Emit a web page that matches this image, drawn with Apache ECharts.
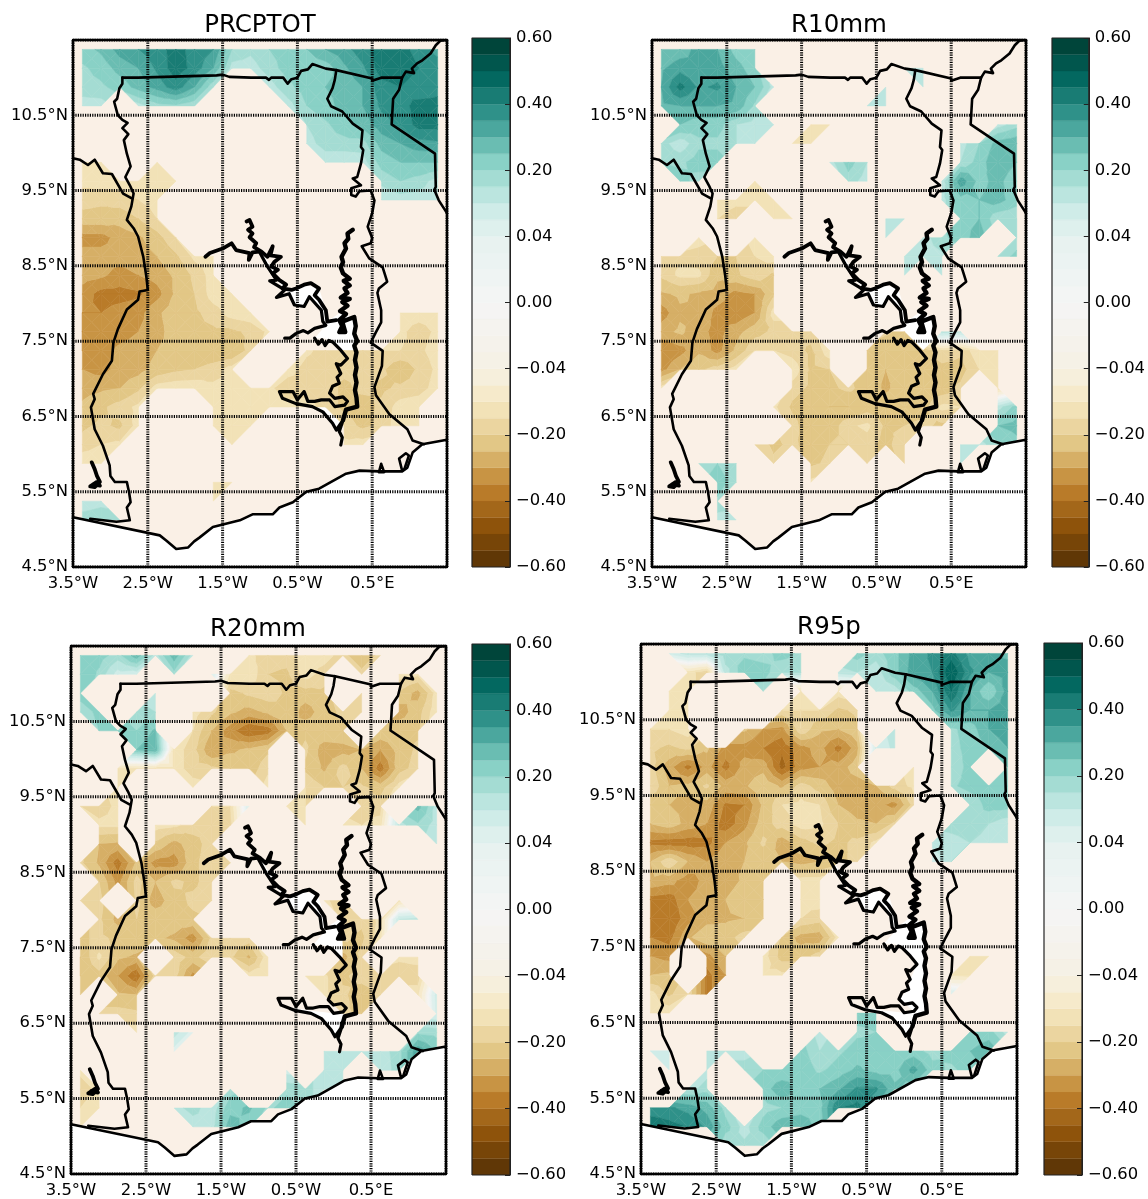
<!DOCTYPE html>
<html><head><meta charset="utf-8">
<style>html,body{margin:0;padding:0;background:#fff}#c{width:1148px;height:1199px}</style>
<script src="https://cdn.jsdelivr.net/npm/echarts@6/dist/echarts.min.js"></script>
</head><body><div id="c"></div>
<script>
// Grid of the masked fields: rows from north to south, columns from west to east. Values in hundredths; 0 = masked.
const gridLons=[-3.375,-3.125,-2.875,-2.625,-2.375,-2.125,-1.875,-1.625,-1.375,-1.125,-0.875,-0.625,-0.375,-0.125,0.125,0.375,0.625,0.875,1.125,1.375];
const gridLats=[11.375,11.125,10.875,10.625,10.375,10.125,9.875,9.625,9.375,9.125,8.875,8.625,8.375,8.125,7.875,7.625,7.375,7.125,6.875,6.625,6.375,6.125,5.875,5.625,5.375,5.125,4.875,4.625];
const titles=['PRCPTOT','R10mm','R20mm','R95p'];
const PRCPTOT=[
[23,26,32,35,38,42,38,35,20,17,20,22,25,30,33,38,43,42,38,33],
[19,22,27,30,36,43,38,30,14,14,18,22,22,22,29,34,43,44,40,38],
[18,19,22,27,32,38,30,16,0,0,14,19,22,25,27,30,38,40,36,38],
[14,14,0,14,18,19,16,0,0,0,0,14,20,23,27,30,36,38,42,42],
[0,0,0,0,0,0,0,0,0,0,0,0,16,19,23,27,33,36,42,42],
[0,0,0,0,0,0,0,0,0,0,0,0,14,18,18,18,27,30,33,34],
[-13,-13,0,0,-13,0,0,0,0,0,0,0,0,13,13,14,22,25,25,25],
[-15,-14,-14,-14,-15,-13,0,0,0,0,0,0,0,0,0,0,17,20,18,14],
[-18,-19,-18,-16,-14,0,0,0,0,0,0,0,0,0,0,0,13,14,14,13],
[-22,-22,-23,-20,-16],
[-32,-32,-28,-26,-22,-16],
[-28,-28,-28,-27,-25,-21,-15,-14],
[-28,-29,-32,-30,-28,-24,-19,-14],
[-32,-37,-37,-36,-32,-24,-20,-14,-13],
[-35,-35,-33,-32,-26,-22,-21,-18,-14,-13,0,0,0,0,0,0,0,-14,-14,-14],
[-35,-33,-32,-30,-27,-22,-21,-21,-21,-19,-15,0,0,0,0,0,0,-15,-18,-15],
[-35,-32,-29,-28,-25,-23,-25,-24,-25,-18,0,0,-15,-18,-18,-18,-16,-16,-17,-14],
[-30,-32,-28,-27,-23,-21,-20,-18,-14,0,0,-14,-18,-19,-19,-19,-19,-24,-19,-15],
[-27,-26,-25,-21,-14,-13,-13,-15,-16,-15,-15,-19,-18,-18,-21,-19,-21,-19,-18,-14],
[-24,-21,-18,-15,0,0,0,-13,-14,-13,-13,-14,-14,-18,-21,-22,-19,-14,-13,0],
[-21,-19,-21,-14,0,0,0,-13,-14,-13,0,0,0,0,-18,-21,-19,-13,-13,0],
[-18,-16,-15,0,0,0,0,0,-13,0,0,0,0,0,-15,-14],
[-13,-13],
[0,0,0,0,0,0,0,-13,-13],
[12,14,0,0,0,0,0,-13],
[19,20,19],
[],[]];
const R10mm=[
[25,27,32,30,23,20],
[29,33,30,32,27,22,0,0,0,0,0,0,0,14,16],
[30,42,34,36,30,25,14,0,0,0,0,0,13,0,14],
[29,30,30,30,29,19,0,0,0,0,0,13,14],
[0,25,22,22,16,14,14,0,-15,-13,0,0,0,0,0,0,0,0,14,18],
[18,13,19,19,16,13,0,-13,-14,0,0,0,0,0,0,0,14,20,27,29],
[20,19,22,22,0,0,0,0,0,14,22,16,0,0,0,0,16,22,30,25],
[0,22,18,0,0,-14,0,0,0,0,18,14,0,0,0,13,33,23,27,20],
[0,0,0,-14,-15,-15,-14,0,0,0,0,0,0,0,0,14,23,25,27,22],
[0,0,0,-16,-18,0,-13,-13,0,0,0,0,13,13,0,0,23,25,16,16],
[0,0,-14,0,0,-14,0,0,0,0,0,0,13,0,14,19,22,28,0,16],
[-18,-17,-18,-20,-20,-16,-14,0,0,0,0,0,0,13,14,15,0,0,16,22],
[-19,-15,-15,-24,-21,-17,-21,0,0,0,0,0,0,13,0,13],
[-26,-24,-26,-27,-32,-30,-21],
[-33,-26,-25,-32,-34,-30,-14],
[-27,-24,-28,-32,-27,-22,-19,-19,-18,0,0,0,-19,-22,0,14,13],
[-35,-32,-26,-32,-24,-16,-16,-18,-21,-13,0,-22,-24,-24,-24,-16,-19,-13,-13],
[-32,-25,-21,-18,-14,0,0,-13,-21,-20,0,-23,-25,-23,-23,-22,-22,-16,-14],
[-14,0,0,0,0,0,0,-18,-21,-21,-19,-22,-26,-22,-22,-23,-19,0,-15,0],
[0,0,0,0,0,0,-15,-21,-24,-25,-25,-22,-22,-22,-22,-15,-16,0,14,22],
[0,0,0,0,0,0,0,-18,-24,-23,-17,-15,-21,-20,-19,-21,0,0,25,27],
[0,0,0,0,0,-17,-21,-19,-22,-20,-20,-18,-22,-16,0,0,12,14,19,23],
[0,0,16,20,16,0,-19,0,-21,-19,0,-18,0,-18,0,0,12],
[0,0,0,23,17,0,0,0,-15],
[0,0,0,19],
[0,0,0,14,13],
[],[]];
const R20mm=[
[23,22,18,28,14,28,14,0,0,-15,-18,-18,-14,-14,-18,-25,-18],
[25,19,10,9,0,18,0,8,-13,-13,-20,-21,-14,-18,0,-18,0,-14,-15],
[23,0,0,0,13,0,0,0,-22,-19,-17,-21,-22,-21,0,-16,0,-21,-27,-14],
[16,22,0,18,16,0,-14,-19,-24,-27,-24,-20,-28,-22,-19,-18,0,-28,-22,-13],
[0,20,22,20,26,0,-16,-25,-33,-40,-38,-25,-21,-21,-21,0,-21,-21,-21],
[0,0,0,25,29,-14,-18,-30,-26,-24,-21,0,-19,-28,-27,-25,-30,-23,-19],
[0,0,-15,-14,-14,-14,-18,-19,-21,-23,-17,0,-21,-26,-18,-25,-38,-22,-18],
[0,0,-14,0,0,0,-14,0,0,0,-14,0,-16,-20,-20,-19,-22,-14],
[-16,-18,-15,0,0,0,0,-16,-16,8,0,-14,-16,0,0,-18,-18,0,27,14],
[0,-15,-15,0,-14,-15,-18,-19,-18,0,0,0,-13,0,-15,-16,-14,14,19,14],
[0,-25,-26,0,-21,-27,-22,-18,0,0,0,0,0,0,0,0,0,0,0,12],
[-19,-26,-38,-24,-32,-33,-21,-18,-17,-18],
[0,-20,-32,-18,-25,-19,-21,-18],
[-16,-18,0,-19,-28,-22,-19,-18,0,0,0,0,0,-14,-21,0,0,-14],
[0,-19,-27,-20,-21,-22,-21,0,0,0,0,0,0,0,-18,-19,-15,12,14],
[-21,-19,-21,-21,-24,-26,-33,-19,-18,-18,0,0,0,0,-19,-21,-14],
[-25,-15,-24,-26,0,-17,-22,-16,-19,-26,-13,0,0,0,-27,-19,0,-15,-14],
[-25,-22,-30,-40,-18,-18,-32,0,0,-14,-13,0,-15,-15,-21,-18,-18,-19,-19],
[-22,0,-24,-25,0,0,0,0,0,0,0,0,0,-15,-19,-23,-18,0,-13,10],
[0,-18,-18,-19,0,0,0,0,0,0,0,0,0,0,-19,-21,0,0,0,9],
[0,0,0,-14,0,14,6,0,0,0,0,0,0,0,0,0,0,0,19,18],
[0,0,0,0,0,6,0,0,0,0,0,0,0,12,12,12,14,18,34,25],
[-15,0,0,0,0,0,0,0,0,0,0,10,0,13,13,0,13,18],
[-18,-15,0,0,0,0,0,0,18,0,0,19,18,13,13],
[-16,-14,0,0,0,14,18,13,23,26,19,22,18],
[-15,0,0,0,0,0,13,14,28,22],
[],[]];
const R95p=[
[0,9,14,14,19,19,18,22,19,0,0,22,18,23,32,36,42,33,33,29],
[0,0,-14,-19,14,23,22,16,16,0,14,16,13,23,33,35,50,36,30,32],
[0,-14,-14,0,0,0,18,0,-14,0,-14,0,13,13,22,30,45,30,20,32],
[0,-14,-14,0,0,0,0,-16,-16,-16,-21,-19,0,0,0,23,36,30,30,34],
[-16,-16,-14,0,0,-24,-30,-32,-16,-24,-25,-21,0,14,0,0,19,22,30,34],
[-19,-21,-19,-24,-32,-32,-35,-39,-32,-28,-37,-27,9,13,0,0,18,22,25,30],
[-18,-28,-37,-28,-37,-28,-27,-42,-32,-30,-28,-22,0,0,-14,0,16,22,0,25],
[-16,-25,-24,-19,-27,-26,-21,-26,-18,-22,-28,-28,-25,-18,-15,0,19,22,22,22],
[-24,-25,-26,-27,-36,-35,-24,-16,-15,-16,-25,-28,-28,-32,-18,0,0,16,22,22],
[-25,-22,-27,-30,-38,-32,-22,-18,-14,-15,-20,-24,-25,-19,0,0,18,19,16,13],
[-37,-38,-38,-37,-30,-26,-19,-28,-22,-19,-21,-19,-15,0,0,13,14,16,14,13],
[-25,-16,-25,-30,-26,-25,-24,-25,-27,-25,-22,-18,0,0,0,9,16],
[-26,-28,-33,-28,-28,-24,-22,0,-14,-14],
[-37,-38,-30,-28,-25,-21,-21,0,-15,-14],
[-38,-40,-32,-27,-26,-25,-24,0,-16,-18],
[-35,-37,-26,-21,-22,-18,0,-21,-27,-28,-14],
[-30,-32,0,-32,-25,0,-14,-22,-22,-18,0,0,0,0,0,0,0,-15,-13],
[-25,-24,0,-37,-30,0,-15,-15,0,0,0,0,0,0,0,0,-13,-14],
[-14,-21,-16,-37,0,0,0,0,0,0,0,0,0,0,0,0,8],
[-15,-13,0,0,0,0,0,0,0,0,0,22,22],
[0,0,0,0,0,0,0,0,0,14,0,19,20,0,0,0,0,20,22,14],
[8,8,0,14,14,14,0,0,22,16,19,22,22,22,22,18,22,25,29],
[0,9,0,14,0,18,20,20,23,19,22,26,23,23,32,22,19,22],
[0,0,14,18,0,0,22,29,22,25,29,36,36,26,22],
[36,36,33,28,18,0,18,20,22,23,40,42,30],
[45,42,40,34,22,14,22,29,30,22],
[0,0,0,0,16,17,16],
[]];
const fields=[PRCPTOT,R10mm,R20mm,R95p];
// Contour levels (hundredths) and colour bar tick labels
const levels=[-60,-55,-50,-45,-40,-35,-30,-25,-20,-16,-12,-8,-4,-3,-2,-1,0,1,2,3,4,8,12,16,20,25,30,35,40,45,50,55,60];
const barTicks=['−0.60','−0.40','−0.20','−0.04','0.00','0.04','0.20','0.40','0.60'];
const brbg=['#543005','#8c510a','#bf812d','#dfc27d','#f6e8c3','#f5f5f5','#c7eae5','#80cdc1','#35978f','#01665e','#003c30'];
// Map ticks
const lonTicks=[-3.5,-2.5,-1.5,-0.5,0.5,1.5];
const latTicks=[4.5,5.5,6.5,7.5,8.5,9.5,10.5,11.5];
const lonLabels={'-3.5':'3.5°W','-2.5':'2.5°W','-1.5':'1.5°W','-0.5':'0.5°W','0.5':'0.5°E'};
const latLabels={'4.5':'4.5°N','5.5':'5.5°N','6.5':'6.5°N','7.5':'7.5°N','8.5':'8.5°N','9.5':'9.5°N','10.5':'10.5°N'};
// Outlines, longitude / latitude
const coast=[[-3.5,5.16],[-2.34,4.92],[-2.25,4.85],[-2.12,4.74],[-1.96,4.76],[-1.88,4.84],[-1.81,4.89],[-1.63,5.03],[-1.27,5.12],[-1.1,5.2],[-0.83,5.2],[-0.74,5.29],[-0.56,5.36],[-0.38,5.5],[-0.21,5.54],[0.15,5.74],[0.33,5.78],[0.59,5.77],[0.9,5.77],[0.97,5.82],[1.04,6.02],[1.17,6.13],[1.5,6.19]];
const northBorder=[[-2.84,11],[-2.63,11],[-1.58,11.03],[-1.5,11.04],[-1.41,11.01],[-1.12,11],[-0.92,11],[-0.88,10.97],[-0.85,11],[-0.69,11],[-0.63,10.92],[-0.58,10.98],[-0.5,11],[-0.45,11.09],[-0.36,11.11],[-0.3,11.18],[-0.12,11.12],[0.02,11.1],[0.5,10.99],[0.5,10.96],[0.62,11],[0.9,11],[0.95,11.08],[1.06,11.06],[1.03,11.12],[1.1,11.19],[1.17,11.23],[1.28,11.32],[1.35,11.43],[1.41,11.49],[1.5,11.5]];
const togoBenin=[[0.9,11],[0.86,10.84],[0.78,10.72],[0.76,10.38],[1.34,9.99],[1.35,9.55],[1.33,9.51],[1.39,9.37],[1.5,9.2]];
const westBorder=[[-2.84,11],[-2.84,10.92],[-2.88,10.86],[-2.91,10.72],[-2.95,10.68],[-2.9,10.5],[-2.84,10.44],[-2.77,10.4],[-2.84,10.33],[-2.76,10.25],[-2.82,10.17],[-2.78,9.99],[-2.73,9.82],[-2.8,9.68],[-2.74,9.57],[-2.69,9.46],[-2.72,9.29],[-2.78,9.11],[-2.69,9],[-2.63,8.89],[-2.56,8.62],[-2.52,8.36],[-2.5,8.18],[-2.61,8.16],[-2.63,8.05],[-2.78,7.92],[-2.9,7.66],[-2.96,7.48],[-2.98,7.24],[-3.1,7.06],[-3.23,6.8],[-3.21,6.73],[-3.26,6.62],[-3.21,6.33],[-3.1,6.11],[-3.01,5.85],[-3,5.71],[-2.94,5.63],[-2.78,5.63],[-2.75,5.49],[-2.73,5.36],[-2.78,5.29],[-2.74,5.12],[-2.92,5.1],[-3.27,5.14]];
const ivoryBurkina=[[-3.5,9.93],[-3.41,9.91],[-3.3,9.84],[-3.21,9.91],[-3.1,9.73],[-2.98,9.72],[-2.83,9.46],[-2.72,9.4]];
const eastBorder=[[0.02,11.1],[0,10.97],[-0.03,10.86],[-0.1,10.72],[-0.05,10.62],[0.1,10.55],[0.24,10.39],[0.37,10.3],[0.35,10.08],[0.38,10.04],[0.35,9.86],[0.3,9.68],[0.24,9.66],[0.35,9.57],[0.22,9.53],[0.22,9.44],[0.28,9.42],[0.33,9.49],[0.48,9.5],[0.53,9.37],[0.5,9.2],[0.44,9.02],[0.5,8.87],[0.48,8.8],[0.36,8.76],[0.46,8.6],[0.64,8.48],[0.7,8.29],[0.59,8.2],[0.57,8.14],[0.62,7.91],[0.62,7.75],[0.55,7.62],[0.48,7.48],[0.64,7.37],[0.63,7.17],[0.53,6.89],[0.55,6.78],[0.73,6.53],[0.97,6.33],[1.04,6.18],[1.19,6.13]];
const ketaLagoon=[[0.9,5.78],[0.86,5.94],[0.95,6.01],[0.99,5.98],[0.93,5.8],[0.9,5.78]];
const smallLagoon=[[0.62,5.87],[0.66,5.76],[0.59,5.76],[0.62,5.87]];
const westLake=[[-3.25,5.89],[-3.21,5.8],[-3.18,5.71],[-3.14,5.63],[-3.21,5.56],[-3.27,5.57],[-3.18,5.63],[-3.14,5.58],[-3.23,5.6]];
const voltaWest=[[-1.73,8.62],[-1.67,8.67],[-1.5,8.73],[-1.38,8.8],[-1.32,8.71],[-1.14,8.67],[-1.15,8.58],[-1.1,8.68],[-1.01,8.69]];
const voltaNorth=[[-1.18,9.09],[-1.14,9.11],[-1.1,9.02],[-1.16,8.98],[-1.1,8.93],[-1.14,8.88],[-1.05,8.8],[-1.08,8.75],[-0.98,8.69],[-0.9,8.62],[-0.83,8.76],[-0.86,8.64],[-0.72,8.62],[-0.81,8.55],[-0.85,8.49],[-0.76,8.45],[-0.83,8.4],[-0.74,8.31],[-0.65,8.25],[-0.7,8.2],[-0.58,8.18],[-0.52,8.2],[-0.41,8.25],[-0.32,8.27],[-0.21,8.2],[-0.27,8.11],[-0.21,8.05],[-0.12,7.91],[-0.1,7.76],[0.02,7.78]];
const voltaInner=[[-1.01,8.69],[-0.9,8.49],[-0.78,8.31],[-0.87,8.3],[-0.67,8.18],[-0.78,8.08],[-0.61,8.13],[-0.54,7.98],[-0.41,7.96],[-0.34,8.09],[-0.18,7.91],[-0.16,7.76],[-0.12,7.71],[-0.27,7.67],[-0.36,7.61],[-0.42,7.64],[-0.52,7.6],[-0.6,7.54],[-0.67,7.54]];
const voltaSouth=[[-0.27,7.54],[-0.22,7.46],[-0.17,7.52],[-0.13,7.44],[-0.08,7.51],[-0.03,7.49],[0.08,7.38],[0.17,7.27],[0.08,7.18],[0.02,7.2],[0.08,7.07],[0.03,7.02],[0.06,6.94],[-0.03,6.9],[-0.07,6.81],[0,6.74],[0.11,6.76],[0.17,6.7],[0.13,6.65],[0,6.63],[-0.07,6.72],[-0.18,6.72],[-0.27,6.7],[-0.36,6.7],[-0.41,6.83],[-0.5,6.72],[-0.56,6.83],[-0.74,6.83],[-0.7,6.74],[-0.52,6.67],[-0.3,6.63],[-0.16,6.56],[-0.03,6.41],[0.02,6.32],[0.11,6.45],[0.06,6.3],[0.1,6.22],[0.08,6.12]];
const voltaEast=[[0.24,8.98],[0.17,8.93],[0.18,8.86],[0.13,8.8],[0.15,8.73],[0.09,8.62],[0.11,8.55],[0.08,8.48],[0.11,8.4],[0.2,8.33],[0.12,8.3],[0.2,8.24],[0.13,8.2],[0.17,8.14],[0.08,8.08],[0.2,8.06],[0.1,8.02],[0.17,7.97],[0.07,7.9],[0.15,7.86],[0.06,7.78],[0.1,7.7],[0.06,7.62],[0.14,7.62],[0.1,7.76],[0.26,7.82],[0.28,7.7],[0.26,7.6],[0.3,7.5],[0.26,7.44],[0.29,7.35],[0.27,7.25],[0.29,7.15],[0.27,7.05],[0.29,6.95],[0.27,6.85],[0.29,6.75],[0.3,6.63],[0.15,6.59],[0.11,6.45]];
const lakeBody=[[-0.12,7.71],[-0.1,7.76],[0.06,7.87],[0.26,7.82],[0.28,7.56],[0.28,7.12],[0.3,6.63],[0.15,6.59],[0.06,6.3],[0.02,6.32],[-0.03,6.41],[-0.16,6.56],[-0.3,6.63],[-0.52,6.67],[-0.7,6.74],[-0.52,6.7],[-0.27,6.66],[0,6.63],[0.13,6.65],[-0.07,6.81],[0.06,6.94],[0.08,7.07],[0.17,7.27],[-0.03,7.49],[-0.14,7.54],[-0.27,7.54]];
const lakeArm=[[-0.98,8.69],[-0.85,8.49],[-0.74,8.31],[-0.58,8.18],[-0.41,8.25],[-0.21,8.2],[-0.12,7.91],[-0.1,7.76],[-0.16,7.76],[-0.18,7.91],[-0.34,8.09],[-0.41,7.96],[-0.54,7.98],[-0.61,8.13],[-0.78,8.31],[-0.9,8.49],[-1.01,8.69]];

// Layout
const panels=[
 {m:[73,40,374,527],b:[472,38,38,529],tx:260,ty:13},
 {m:[652,40,374,527],b:[1052,38,38,529],tx:839,ty:13},
 {m:[71,646,375,528],b:[472,644,38,531],tx:258,ty:617},
 {m:[641,644,376,531],b:[1044,643,38,532],tx:829,ty:615}];
const font='"DejaVu Sans"', labelSize=16.4, linen='#faf0e6';

function hex(h){return [1,3,5].map(i=>parseInt(h.substr(i,2),16));}
function bandColor(i){
  // colour of a band follows its mid value on a linear -0.6..0.6 scale
  const mid=(levels[i]+levels[i+1])/2;
  const t=(mid+60)/120*(brbg.length-1), k=Math.min(Math.floor(t),brbg.length-2), f=t-k;
  const a=hex(brbg[k]),b=hex(brbg[k+1]);
  return 'rgb('+a.map((v,j)=>Math.round(v+(b[j]-v)*f)).join(',')+')';
}
function clip(poly,lvl,above){
  const out=[],n=poly.length;
  for(let i=0;i<n;i++){
    const p=poly[i],q=poly[(i+1)%n];
    const pin=above?p[2]>=lvl:p[2]<=lvl, qin=above?q[2]>=lvl:q[2]<=lvl;
    if(pin)out.push(p);
    if(pin!==qin){const t=(lvl-p[2])/(q[2]-p[2]);out.push([p[0]+(q[0]-p[0])*t,p[1]+(q[1]-p[1])*t,lvl]);}
  }
  return out;
}
function contourPolys(field){
  const res=[];
  const at=(r,c)=>{const row=field[r]||[];const v=row[c];return v?[gridLons[c],gridLats[r],v]:null;};
  for(let r=0;r<gridLats.length-1;r++)for(let c=0;c<gridLons.length-1;c++){
    const q=[at(r,c),at(r,c+1),at(r+1,c+1),at(r+1,c)].filter(Boolean);
    let tris=[];
    if(q.length===3)tris=[q];
    else if(q.length===4){
      const m=[0,1,2].map(k=>(q[0][k]+q[1][k]+q[2][k]+q[3][k])/4);
      tris=[[q[0],q[1],m],[q[1],q[2],m],[q[2],q[3],m],[q[3],q[0],m]];
    }
    tris.forEach(t=>{
      const vs=t.map(p=>p[2]),lo=Math.min(...vs),hi=Math.max(...vs);
      for(let b=0;b<levels.length-1;b++){
        if(levels[b+1]<lo||levels[b]>hi)continue;
        let p=clip(t,levels[b],true);
        if(p.length>=3)p=clip(p,levels[b+1],false);
        if(p.length>=3)res.push({pts:p,b});
      }
    });
  }
  return res;
}
function polySeries(idx,polys,z){
  return {type:'custom',coordinateSystem:'cartesian2d',xAxisIndex:idx,yAxisIndex:idx,z,silent:true,animation:false,clip:true,
    data:polys.map(p=>[p.pts[0][0],p.pts[0][1]]),
    renderItem:(params,api)=>{
      const p=polys[params.dataIndex];
      return {type:'polygon',shape:{points:p.pts.map(v=>api.coord([v[0],v[1]]))},
        style:{fill:p.color,stroke:p.color,lineWidth:p.sw}};
    }};
}
function lineSeries(idx,data,w,z,extra){
  return Object.assign({type:'line',xAxisIndex:idx,yAxisIndex:idx,data,symbol:'none',silent:true,animation:false,z,clip:true,
    lineStyle:{color:'#000',width:w,join:'round',cap:'round'}},extra||{});
}
const graticuleStyle={color:'#000',width:3,type:[1.2,1.2]};

const grid=[],xAxis=[],yAxis=[],series=[],graphic=[];
panels.forEach((p,i)=>{
  const gi=i*2, bi=i*2+1;
  grid.push({left:p.m[0],top:p.m[1],width:p.m[2],height:p.m[3],show:true,backgroundColor:linen,borderWidth:0});
  xAxis.push({type:'value',gridIndex:gi,min:-3.5,max:1.5,interval:0.5,splitLine:{show:false},axisLine:{show:false},axisTick:{show:false},
    axisLabel:{margin:9,fontFamily:font,fontSize:labelSize,color:'#000',hideOverlap:false,showMinLabel:true,showMaxLabel:true,formatter:v=>lonLabels[String(v)]||''}});
  yAxis.push({type:'value',gridIndex:gi,min:4.5,max:11.5,interval:0.5,splitLine:{show:false},axisLine:{show:false},axisTick:{show:false},
    axisLabel:{margin:5,padding:[2,0,0,0],fontFamily:font,fontSize:labelSize,color:'#000',hideOverlap:false,showMinLabel:true,formatter:v=>latLabels[String(v)]||''}});
  // Lake, contours, ocean
  series.push(polySeries(gi,[lakeBody,lakeArm].map(l=>({pts:l,color:'#fff',sw:0})),1));
  series.push(polySeries(gi,contourPolys(fields[i]).map(c=>({pts:c.pts,color:bandColor(c.b),sw:0.5})),2));
  series.push(polySeries(gi,[{pts:coast.concat([[1.5,4.5],[-3.5,4.5]]),color:'#fff',sw:0}],3));
  // Borders
  [northBorder,togoBenin,westBorder,ivoryBurkina,eastBorder,coast].forEach(l=>series.push(lineSeries(gi,l,2.6,4)));
  [ketaLagoon,smallLagoon].forEach(l=>series.push(lineSeries(gi,l,2.6,4)));
  [westLake,voltaWest,voltaNorth].forEach(l=>series.push(lineSeries(gi,l,3.8,4)));
  series.push(lineSeries(gi,voltaEast,4.4,4));
  [voltaInner,voltaSouth].forEach(l=>series.push(lineSeries(gi,l,3.2,4)));
  // Graticule
  lonTicks.forEach(x=>series.push(lineSeries(gi,[[x,4.5],[x,11.5]],3,5,{lineStyle:graticuleStyle})));
  latTicks.forEach(y=>series.push(lineSeries(gi,[[-3.5,y],[1.5,y]],3,5,{lineStyle:graticuleStyle})));
  // Frame
  series.push(lineSeries(gi,[[-3.5,4.5],[1.5,4.5],[1.5,11.5],[-3.5,11.5],[-3.5,4.5]],2.4,6,{clip:false}));
  // Colour bar
  grid.push({left:p.b[0],top:p.b[1],width:p.b[2],height:p.b[3],show:false});
  xAxis.push({type:'value',gridIndex:bi,min:0,max:1,show:false});
  yAxis.push({type:'value',gridIndex:bi,min:0,max:32,interval:4,position:'right',splitLine:{show:false},z:6,
    axisLine:{show:true,onZero:false,lineStyle:{color:'#222',width:1}},
    axisTick:{show:true,inside:true,length:5,lineStyle:{color:'#222',width:1}},
    axisLabel:{margin:6,padding:[4,0,0,0],fontFamily:font,fontSize:labelSize,color:'#000',showMinLabel:true,showMaxLabel:true,formatter:v=>barTicks[v/4]}});
  const cells=levels.slice(0,-1).map((_,k)=>({pts:[[0,k],[1,k],[1,k+1],[0,k+1]],color:bandColor(k),sw:0.3}));
  series.push(polySeries(bi,cells,2));
  series.push(lineSeries(bi,[[0,0],[1,0],[1,32],[0,32],[0,0]],1.2,5,{clip:false,lineStyle:{color:'#222',width:1.2}}));
  graphic.push({type:'text',x:p.tx,y:p.ty,silent:true,style:{text:titles[i],textAlign:'center',textVerticalAlign:'top',font:'24.5px "DejaVu Sans"',fill:'#000'}});
});
const chart=echarts.init(document.getElementById('c'),null,{renderer:'canvas'});
chart.setOption({animation:false,backgroundColor:'#fff',grid,xAxis,yAxis,series,graphic});
</script></body></html>
